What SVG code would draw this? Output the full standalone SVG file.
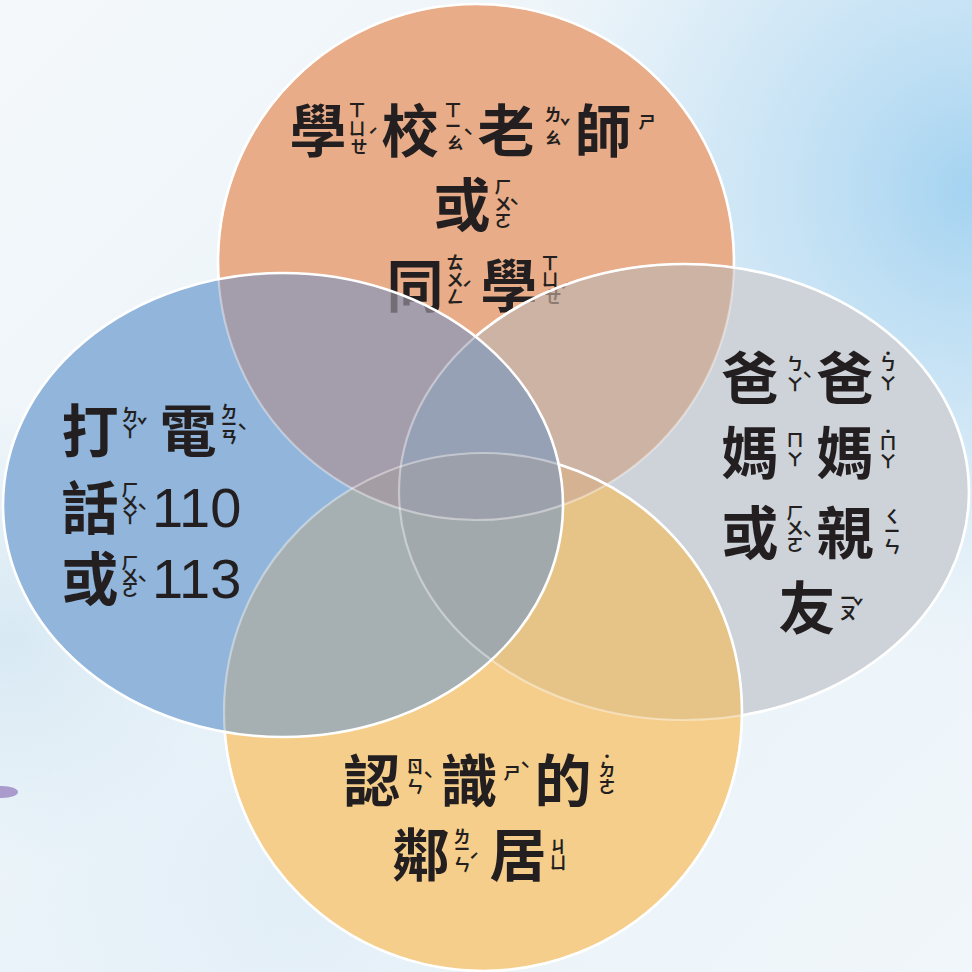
<svg xmlns="http://www.w3.org/2000/svg" width="972" height="972" viewBox="0 0 972 972">
<style>
.h{font-family:"Noto Sans CJK TC","Noto Sans CJK SC",sans-serif;font-size:57px;font-weight:700;fill:#231f20;text-anchor:middle}
.z{font-family:"Noto Sans CJK TC","Noto Sans CJK SC",sans-serif;font-size:17px;font-weight:700;fill:#231f20;text-anchor:middle}
.n{font-family:"Liberation Sans",Arial,sans-serif;font-size:56px;fill:#231f20}
.faint{fill:none;stroke:#ffffff;stroke-opacity:0.4;stroke-width:2.2}
.strong{fill:none;stroke:#ffffff;stroke-width:2.6}
</style>
<defs>
<linearGradient id="bg" x1="0" y1="0" x2="1" y2="1">
<stop offset="0" stop-color="#f4f8fa"/>
<stop offset="0.5" stop-color="#eaf3f9"/>
<stop offset="1" stop-color="#f0f6fa"/>
</linearGradient>
<radialGradient id="b1" cx="972" cy="190" r="470" gradientUnits="userSpaceOnUse">
<stop offset="0" stop-color="#a0d1f0" stop-opacity="0.95"/>
<stop offset="0.55" stop-color="#c2e0f4" stop-opacity="0.6"/>
<stop offset="1" stop-color="#d4e9f6" stop-opacity="0"/>
</radialGradient>
<radialGradient id="b2" cx="10" cy="640" r="230" gradientUnits="userSpaceOnUse">
<stop offset="0" stop-color="#d3e6f2" stop-opacity="0.8"/>
<stop offset="1" stop-color="#d3e6f2" stop-opacity="0"/>
</radialGradient>
<radialGradient id="b3" cx="300" cy="900" r="300" gradientUnits="userSpaceOnUse">
<stop offset="0" stop-color="#dcebf6" stop-opacity="0.6"/>
<stop offset="1" stop-color="#dcebf6" stop-opacity="0"/>
</radialGradient>
<clipPath id="cT"><circle cx="476" cy="262" r="258"/></clipPath>
<clipPath id="cL"><ellipse cx="283" cy="505" rx="280" ry="232"/></clipPath>
<clipPath id="cR"><ellipse cx="684" cy="492" rx="285" ry="228"/></clipPath>
<clipPath id="cB"><circle cx="483" cy="712" r="259"/></clipPath>
<mask id="mB" maskUnits="userSpaceOnUse" x="0" y="0" width="972" height="972">
<rect width="972" height="972" fill="#fff"/>
<ellipse cx="283" cy="505" rx="280" ry="232" fill="#000"/>
</mask>
<mask id="mR" maskUnits="userSpaceOnUse" x="0" y="0" width="972" height="972">
<rect width="972" height="972" fill="#fff"/>
<ellipse cx="283" cy="505" rx="280" ry="232" fill="#000"/>
<circle cx="483" cy="712" r="259" fill="#000"/>
</mask>
<mask id="mT" maskUnits="userSpaceOnUse" x="0" y="0" width="972" height="972">
<rect width="972" height="972" fill="#fff"/>
<ellipse cx="283" cy="505" rx="280" ry="232" fill="#000"/>
<ellipse cx="684" cy="492" rx="285" ry="228" fill="#000"/>
<circle cx="483" cy="712" r="259" fill="#000"/>
</mask>
</defs>

<g id="background">
<rect width="972" height="972" fill="url(#bg)"/>
<rect width="972" height="972" fill="url(#b1)"/>
<rect width="972" height="972" fill="url(#b2)"/>
<rect width="972" height="972" fill="url(#b3)"/>
<ellipse cx="2" cy="792" rx="16" ry="6" fill="#a99bcb"/>
</g>

<g id="regions">
<circle cx="476" cy="262" r="258" fill="#e8ad88"/>
<ellipse cx="684" cy="492" rx="285" ry="228" fill="#ced3d9"/>
<circle cx="483" cy="712" r="259" fill="#f6ce8c"/>
<ellipse cx="283" cy="505" rx="280" ry="232" fill="#91b5db"/>
<g clip-path="url(#cT)"><ellipse cx="684" cy="492" rx="285" ry="228" fill="#cdb3a4"/></g>
<g clip-path="url(#cT)"><ellipse cx="283" cy="505" rx="280" ry="232" fill="#a49dac"/></g>
<g clip-path="url(#cR)"><ellipse cx="283" cy="505" rx="280" ry="232" fill="#9ba7b7"/></g>
<g clip-path="url(#cT)"><circle cx="483" cy="712" r="259" fill="#e0b177"/></g>
<g clip-path="url(#cR)"><circle cx="483" cy="712" r="259" fill="#e6c487"/></g>
<g clip-path="url(#cL)"><circle cx="483" cy="712" r="259" fill="#a6b0b2"/></g>
<g clip-path="url(#cT)"><g clip-path="url(#cR)"><ellipse cx="283" cy="505" rx="280" ry="232" fill="#97a1b5"/></g></g>
<g clip-path="url(#cT)"><g clip-path="url(#cR)"><circle cx="483" cy="712" r="259" fill="#e2b175"/></g></g>
<g clip-path="url(#cT)"><g clip-path="url(#cL)"><circle cx="483" cy="712" r="259" fill="#a89f99"/></g></g>
<g clip-path="url(#cL)"><g clip-path="url(#cR)"><circle cx="483" cy="712" r="259" fill="#a2a9ac"/></g></g>
<g clip-path="url(#cT)"><g clip-path="url(#cL)"><g clip-path="url(#cR)"><circle cx="483" cy="712" r="259" fill="#a3a09b"/></g></g></g>
</g>

<g id="node-school">
<text class="h" x="318" y="152">學</text>
<text class="z"><tspan x="357" y="116">ㄒ</tspan><tspan x="357" y="135">ㄩ</tspan><tspan x="359" y="153">ㄝ</tspan><tspan x="373" y="142">ˊ</tspan></text>
<text class="h" x="410" y="152">校</text>
<text class="z"><tspan x="453" y="116">ㄒ</tspan><tspan x="453" y="132">ㄧ</tspan><tspan x="455" y="149">ㄠ</tspan><tspan x="468" y="143">ˋ</tspan></text>
<text class="h" x="506" y="152">老</text>
<text class="z"><tspan x="553" y="121">ㄌ</tspan><tspan x="553" y="144">ㄠ</tspan><tspan x="565" y="133">ˇ</tspan></text>
<text class="h" x="603" y="152">師</text>
<text class="z" x="647" y="128">ㄕ</text>
<text class="h" x="462" y="226">或</text>
<text class="z"><tspan x="503" y="193">ㄏ</tspan><tspan x="503" y="210">ㄨ</tspan><tspan x="503" y="227">ㄛ</tspan><tspan x="514" y="213">ˋ</tspan></text>
<text class="h" x="415" y="307">同</text>
<text class="z"><tspan x="455" y="269">ㄊ</tspan><tspan x="455" y="286">ㄨ</tspan><tspan x="455" y="303">ㄥ</tspan><tspan x="467" y="295">ˊ</tspan></text>
<text class="h" x="509" y="307">學</text>
<text class="z"><tspan x="550" y="269">ㄒ</tspan><tspan x="550" y="286">ㄩ</tspan><tspan x="553" y="303">ㄝ</tspan><tspan x="565" y="297">ˊ</tspan></text>
</g>

<g id="overlay-cover" opacity="0.62">
<g clip-path="url(#cT)"><ellipse cx="283" cy="505" rx="280" ry="232" fill="#a49dac"/></g>
<g clip-path="url(#cT)"><ellipse cx="684" cy="492" rx="285" ry="228" fill="#cdb3a4"/></g>
<g clip-path="url(#cT)"><g clip-path="url(#cR)"><ellipse cx="283" cy="505" rx="280" ry="232" fill="#97a1b5"/></g></g>
</g>

<g id="outlines">
<circle class="faint" cx="476" cy="262" r="258"/>
<ellipse class="faint" cx="684" cy="492" rx="285" ry="228"/>
<circle class="faint" cx="483" cy="712" r="259"/>
<circle class="strong" cx="476" cy="262" r="258" mask="url(#mT)"/>
<ellipse class="strong" cx="684" cy="492" rx="285" ry="228" mask="url(#mR)"/>
<circle class="strong" cx="483" cy="712" r="259" mask="url(#mB)"/>
<ellipse class="strong" cx="283" cy="505" rx="280" ry="232"/>
</g>

<g id="node-police">
<text class="h" x="90" y="452">打</text>
<text class="z"><tspan x="130" y="421">ㄉ</tspan><tspan x="130" y="438">ㄚ</tspan><tspan x="142" y="432">ˇ</tspan></text>
<text class="h" x="188" y="452">電</text>
<text class="z"><tspan x="229" y="418">ㄉ</tspan><tspan x="229" y="430">ㄧ</tspan><tspan x="229" y="443">ㄢ</tspan><tspan x="242" y="438">ˋ</tspan></text>
<text class="h" x="90" y="529">話</text>
<text class="z"><tspan x="130" y="496">ㄏ</tspan><tspan x="130" y="509">ㄨ</tspan><tspan x="130" y="524">ㄚ</tspan><tspan x="142" y="518">ˋ</tspan></text>
<text class="n" x="152" y="527">110</text>
<text class="h" x="90" y="600">或</text>
<text class="z"><tspan x="130" y="569">ㄏ</tspan><tspan x="130" y="582">ㄨ</tspan><tspan x="130" y="596">ㄛ</tspan><tspan x="142" y="590">ˋ</tspan></text>
<text class="n" x="152" y="598">113</text>
</g>

<g id="node-family">
<text class="h" x="750" y="399">爸</text>
<text class="z"><tspan x="795" y="370">ㄅ</tspan><tspan x="795" y="391">ㄚ</tspan><tspan x="807" y="386">ˋ</tspan></text>
<text class="h" x="845" y="399">爸</text>
<text class="z"><tspan x="888" y="360">˙</tspan><tspan x="888" y="370">ㄅ</tspan><tspan x="888" y="390">ㄚ</tspan></text>
<text class="h" x="750" y="474">媽</text>
<text class="z"><tspan x="795" y="446">ㄇ</tspan><tspan x="795" y="466">ㄚ</tspan></text>
<text class="h" x="845" y="474">媽</text>
<text class="z"><tspan x="888" y="438">˙</tspan><tspan x="888" y="449">ㄇ</tspan><tspan x="888" y="468">ㄚ</tspan></text>
<text class="h" x="750" y="554">或</text>
<text class="z"><tspan x="795" y="519">ㄏ</tspan><tspan x="795" y="534">ㄨ</tspan><tspan x="795" y="551">ㄛ</tspan><tspan x="807" y="545">ˋ</tspan></text>
<text class="h" x="845" y="554">親</text>
<text class="z"><tspan x="892" y="523">ㄑ</tspan><tspan x="892" y="537">ㄧ</tspan><tspan x="892" y="553">ㄣ</tspan></text>
<text class="h" x="807" y="629">友</text>
<text class="z"><tspan x="848" y="604">ㄧ</tspan><tspan x="848" y="619">ㄡ</tspan><tspan x="858" y="613">ˇ</tspan></text>
</g>

<g id="node-neighbor">
<text class="h" x="372" y="802">認</text>
<text class="z"><tspan x="415" y="773">ㄖ</tspan><tspan x="415" y="793">ㄣ</tspan><tspan x="428" y="786">ˋ</tspan></text>
<text class="h" x="469" y="802">識</text>
<text class="z"><tspan x="512" y="779">ㄕ</tspan><tspan x="525" y="776">ˋ</tspan></text>
<text class="h" x="563" y="802">的</text>
<text class="z"><tspan x="607" y="763">˙</tspan><tspan x="607" y="776">ㄉ</tspan><tspan x="607" y="793">ㄜ</tspan></text>
<text class="h" x="421" y="876">鄰</text>
<text class="z"><tspan x="462" y="843">ㄌ</tspan><tspan x="462" y="855">ㄧ</tspan><tspan x="462" y="871">ㄣ</tspan><tspan x="474" y="867">ˊ</tspan></text>
<text class="h" x="518" y="876">居</text>
<text class="z"><tspan x="558" y="853">ㄐ</tspan><tspan x="558" y="869">ㄩ</tspan></text>
</g>
</svg>
